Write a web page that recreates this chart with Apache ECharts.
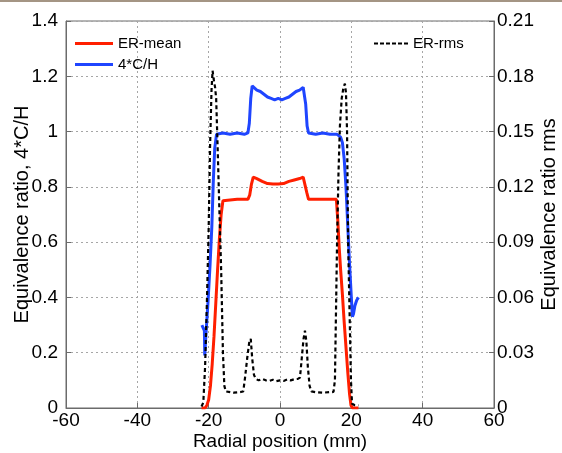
<!DOCTYPE html>
<html>
<head>
<meta charset="utf-8">
<script src="https://cdn.jsdelivr.net/npm/echarts@6/dist/echarts.min.js"></script>
<style>
html,body{margin:0;padding:0;background:#fff;}
#chart{width:562px;height:453px;}
</style>
</head>
<body>
<div id="chart"></div>
<script>
// ---- data ----
const xTicks = [-60, -40, -20, 0, 20, 40, 60];
const leftTicks = [0, 0.2, 0.4, 0.6, 0.8, 1, 1.2, 1.4];
const rightTicks = [0, 0.03, 0.06, 0.09, 0.12, 0.15, 0.18, 0.21];

const erMeanX = [-22, -21, -20.5, -20, -19.5, -19, -18.5, -18, -17.5, -17, -16.5, -16, -15.5, -12, -9, -8.5, -8, -7.5, -6.5, -5, -3.5, -2, -0.5, 1, 2.5, 4, 5.5, 6.5, 7, 7.5, 8, 10, 12, 15.8, 16.2, 16.6, 17, 17.5, 18, 18.5, 19, 19.5, 19.9, 20.3, 22];
const erMeanY = [0, 0, 0.01, 0.03, 0.08, 0.16, 0.26, 0.38, 0.50, 0.61, 0.70, 0.75, 0.755, 0.755, 0.755, 0.77, 0.81, 0.835, 0.83, 0.82, 0.812, 0.81, 0.81, 0.812, 0.82, 0.825, 0.83, 0.835, 0.83, 0.78, 0.755, 0.755, 0.755, 0.755, 0.68, 0.58, 0.50, 0.41, 0.31, 0.22, 0.13, 0.05, 0.01, 0, 0];

const chX = [-21.9, -21.2, -21.1, -20.7, -20.2, -19.6, -19.1, -18.7, -18.3, -17.8, -16, -14, -12, -10, -9, -8.6, -8.2, -7.8, -7.3, -6.5, -5.5, -4.5, -3.5, -2.5, -1.5, -0.5, 0.5, 1.5, 2.5, 3.5, 4.5, 5.5, 6.5, 6.9, 7.2, 7.6, 8.0, 10, 12, 14, 16, 17, 17.5, 18, 18.5, 19, 19.5, 20.0, 20.3, 20.6, 21.0, 21.5, 22.0];
const chY = [0.30, 0.28, 0.19, 0.28, 0.38, 0.52, 0.66, 0.82, 0.94, 0.99, 0.995, 0.99, 0.995, 0.99, 0.995, 1.03, 1.12, 1.165, 1.17, 1.15, 1.145, 1.135, 1.125, 1.12, 1.115, 1.12, 1.115, 1.12, 1.125, 1.135, 1.145, 1.15, 1.16, 1.16, 1.10, 1.02, 0.995, 0.99, 0.995, 0.99, 0.99, 0.98, 0.96, 0.90, 0.80, 0.66, 0.52, 0.40, 0.33, 0.34, 0.37, 0.39, 0.40];

const erRmsX = [-22, -21.5, -21, -20.5, -20, -19.6, -19.2, -18.9, -18.6, -18.2, -17.9, -17.5, -17, -16.5, -16, -15.6, -15.2, -13, -11, -10.3, -9.8, -9.2, -8.6, -8.2, -7.8, -7.3, -6.8, -6, -5, -4, -3, -2, -1, 0, 1, 2, 3, 4, 5, 5.6, 6.1, 6.6, 7.0, 7.4, 7.8, 8.3, 8.8, 10, 12, 14, 15.0, 15.4, 15.7, 16.0, 16.4, 16.8, 17.3, 17.8, 18.2, 18.5, 18.8, 19.1, 19.5, 19.9, 20.2, 21, 22];
const erRmsY = [0.0008, 0.003, 0.0225, 0.057, 0.0975, 0.1425, 0.1725, 0.183, 0.1785, 0.174, 0.168, 0.1425, 0.108, 0.075, 0.030, 0.012, 0.009, 0.0083, 0.0087, 0.009, 0.0165, 0.027, 0.036, 0.0375, 0.027, 0.018, 0.0158, 0.015, 0.0158, 0.015, 0.0147, 0.0153, 0.0146, 0.015, 0.0147, 0.0155, 0.015, 0.0156, 0.0158, 0.0165, 0.027, 0.0375, 0.042, 0.036, 0.0225, 0.012, 0.009, 0.0086, 0.0083, 0.0086, 0.0087, 0.015, 0.0525, 0.09, 0.1275, 0.153, 0.168, 0.174, 0.176, 0.171, 0.15, 0.09, 0.0525, 0.015, 0.0023, 0.0015, 0.0015];

const zip = (xs, ys) => xs.map((x, i) => [x, ys[i]]);

const FONT = 'Liberation Sans, Arial, sans-serif';
const RED = '#ff1f00', BLUE = '#1f45ff';
const chart = echarts.init(document.getElementById('chart'), null, {renderer: 'canvas'});

const axisLineStyle = {color: '#6b6b6b', width: 1};
const gridLine = {show: true, lineStyle: {color: '#a6a6a6', type: [2, 3], width: 1}};
const solidIcon = 'path://M0,0H38V3H0Z';
const dashIcon = 'path://M0,0h4v2h-4z M6,0h4v2h-4z M12,0h4v2h-4z M18,0h4v2h-4z M24,0h4v2h-4z M30,0h4v2h-4z';

chart.setOption({
  animation: false,
  backgroundColor: '#ffffff',
  textStyle: {fontFamily: FONT},
  graphic: [{
    type: 'rect', shape: {x: 0, y: 0, width: 562, height: 2},
    style: {fill: '#a49584'}, silent: true
  }],
  grid: {left: 66, right: 68, top: 21, bottom: 45, outerBoundsMode: 'none', containLabel: false,
         show: true, borderColor: '#6b6b6b', borderWidth: 1},
  legend: [{
    orient: 'vertical', left: 70, top: 31, itemWidth: 38, itemHeight: 3, itemGap: 6,
    textStyle: {fontSize: 15, color: '#000', fontFamily: FONT},
    data: [{name: 'ER-mean', icon: solidIcon, itemStyle: {color: RED}},
           {name: '4*C/H', icon: solidIcon, itemStyle: {color: BLUE}}]
  }, {
    orient: 'vertical', left: 369, top: 31, itemWidth: 34, itemHeight: 2,
    textStyle: {fontSize: 15, color: '#000', fontFamily: FONT},
    data: [{name: 'ER-rms', icon: dashIcon, itemStyle: {color: '#000'}}]
  }],
  xAxis: {
    type: 'value', min: xTicks[0], max: xTicks[xTicks.length - 1], interval: 20,
    name: 'Radial position (mm)', nameLocation: 'middle', nameGap: 24, nameMoveOverlap: false,
    nameTextStyle: {fontSize: 19, color: '#000'},
    axisLine: {show: true, onZero: false, lineStyle: axisLineStyle},
    axisTick: {show: true, inside: true, length: 5, lineStyle: axisLineStyle},
    axisLabel: {fontSize: 19, color: '#000', margin: 3},
    splitLine: gridLine
  },
  yAxis: [{
    type: 'value', min: leftTicks[0], max: leftTicks[leftTicks.length - 1], interval: 0.2,
    name: 'Equivalence ratio, 4*C/H', nameLocation: 'middle', nameGap: 34, nameRotate: 90, nameMoveOverlap: false,
    nameTextStyle: {fontSize: 20, color: '#000'},
    axisLine: {show: true, onZero: false, lineStyle: axisLineStyle},
    axisTick: {show: true, inside: true, length: 5, lineStyle: axisLineStyle},
    axisLabel: {fontSize: 19, color: '#000', margin: 8},
    splitLine: gridLine
  }, {
    type: 'value', position: 'right', min: rightTicks[0], max: rightTicks[rightTicks.length - 1], interval: 0.03,
    name: 'Equivalence ratio rms', nameLocation: 'middle', nameGap: 45, nameRotate: 90, nameMoveOverlap: false,
    nameTextStyle: {fontSize: 20, color: '#000'},
    axisLine: {show: true, onZero: false, lineStyle: axisLineStyle},
    axisTick: {show: true, inside: true, length: 5, lineStyle: axisLineStyle},
    axisLabel: {fontSize: 19, color: '#000', margin: 3},
    splitLine: {show: false}
  }],
  series: [{
    name: 'ER-mean', type: 'line', data: zip(erMeanX, erMeanY), yAxisIndex: 0,
    showSymbol: false, symbol: 'none', lineStyle: {color: RED, width: 3}, itemStyle: {color: RED}, z: 3
  }, {
    name: '4*C/H', type: 'line', data: zip(chX, chY), yAxisIndex: 0,
    showSymbol: false, symbol: 'none', lineStyle: {color: BLUE, width: 3}, itemStyle: {color: BLUE}, z: 3
  }, {
    name: 'ER-rms', type: 'line', data: zip(erRmsX, erRmsY), yAxisIndex: 1,
    showSymbol: false, symbol: 'none', lineStyle: {color: '#000', width: 2.2, type: [4, 3]}, itemStyle: {color: '#000'}, z: 4
  }]
});
</script>
</body>
</html>
